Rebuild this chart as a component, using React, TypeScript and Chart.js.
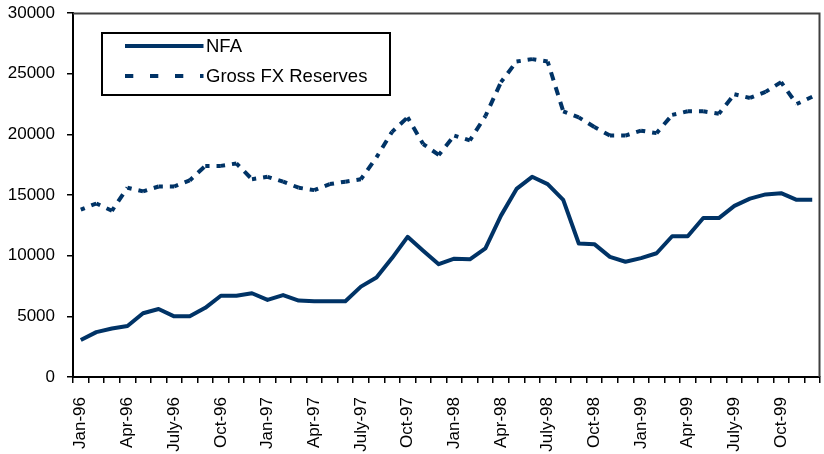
import React, { useEffect, useRef } from "react";
import { Chart, registerables } from "chart.js";

Chart.register(...registerables);

const categories = [
  "Jan-96", "Feb-96", "Mar-96", "Apr-96", "May-96", "June-96", "July-96", "Aug-96", "Sep-96", "Oct-96", "Nov-96", "Dec-96",
  "Jan-97", "Feb-97", "Mar-97", "Apr-97", "May-97", "June-97", "July-97", "Aug-97", "Sep-97", "Oct-97", "Nov-97", "Dec-97",
  "Jan-98", "Feb-98", "Mar-98", "Apr-98", "May-98", "June-98", "July-98", "Aug-98", "Sep-98", "Oct-98", "Nov-98", "Dec-98",
  "Jan-99", "Feb-99", "Mar-99", "Apr-99", "May-99", "June-99", "July-99", "Aug-99", "Sep-99", "Oct-99", "Nov-99", "Dec-99",
];

const nfa = [
  3050, 3700, 4000, 4200, 5250, 5600, 5000, 5000, 5700, 6700, 6700, 6900,
  6350, 6750, 6300, 6250, 6250, 6250, 7450, 8200, 9800, 11550, 10400, 9300,
  9750, 9700, 10600, 13300, 15500, 16500, 15900, 14600, 11000, 10950, 9900, 9500,
  9800, 10200, 11600, 11600, 13100, 13100, 14100, 14700, 15050, 15150, 14600, 14600,
];

const grossFx = [
  13800, 14300, 13700, 15600, 15300, 15700, 15700, 16200, 17400, 17400, 17600, 16300,
  16500, 16100, 15600, 15400, 15900, 16100, 16300, 18100, 20200, 21400, 19200, 18300,
  19900, 19500, 21500, 24300, 26000, 26200, 26000, 21900, 21400, 20600, 19900, 19900,
  20300, 20100, 21600, 21900, 21900, 21700, 23300, 23000, 23500, 24300, 22500, 23100,
];

const yTicks = [0, 5000, 10000, 15000, 20000, 25000, 30000];
const seriesNames = ["NFA", "Gross FX Reserves"];

const FONT = "'Liberation Sans', Arial, sans-serif";
const NAVY = "#003366";
const DASH = [8.5, 7];
const DASH_PERIOD = 15.5;

const legendPlugin = {
  id: "boxLegend",
  afterDraw(chart: any) {
    const ctx = chart.ctx;
    ctx.save();
    const ca = chart.chartArea;
    ctx.strokeStyle = "#404040";
    ctx.lineWidth = 2;
    ctx.beginPath();
    ctx.moveTo(ca.left, ca.top + 0.5);
    ctx.lineTo(ca.right - 0.5, ca.top + 0.5);
    ctx.lineTo(ca.right - 0.5, ca.bottom);
    ctx.stroke();

    const bx = 102, by = 33, bw = 288, bh = 62;
    ctx.fillStyle = "#ffffff";
    ctx.fillRect(bx, by, bw, bh);
    ctx.strokeStyle = "#000000";
    ctx.lineWidth = 2;
    ctx.strokeRect(bx, by, bw, bh);

    const ds = chart.data.datasets;
    ctx.font = `18.5px ${FONT}`;
    ctx.textBaseline = "middle";
    ctx.textAlign = "left";
    const rows = [46, 76];
    ds.forEach((d: any, i: number) => {
      const y = rows[i];
      ctx.strokeStyle = d.borderColor;
      ctx.lineWidth = 4;
      ctx.lineCap = "butt";
      ctx.setLineDash(i === 1 ? [8.3, 16.7] : []);
      ctx.beginPath();
      ctx.moveTo(125, y);
      ctx.lineTo(203.5, y);
      ctx.stroke();
      ctx.setLineDash([]);
      ctx.fillStyle = "#000000";
      ctx.fillText(d.label, 206, y + 1);
    });
    ctx.restore();
  },
};

export default function App() {
  const ref = useRef<HTMLCanvasElement | null>(null);

  useEffect(() => {
    document.body.style.margin = "0";
    const canvas = ref.current;
    if (!canvas) return;
    const chart = new Chart(canvas, {
      type: "line",
      data: {
        labels: categories,
        datasets: [
          {
            label: seriesNames[0],
            data: nfa,
            borderColor: NAVY,
            backgroundColor: NAVY,
            borderWidth: 4,
            pointRadius: 0,
            tension: 0,
            borderJoinStyle: "round",
            fill: false,
          },
          {
            label: seriesNames[1],
            data: grossFx,
            borderColor: NAVY,
            backgroundColor: NAVY,
            borderWidth: 4,
            pointRadius: 0,
            tension: 0,
            borderDash: DASH,
            fill: false,
            segment: {
              borderDashOffset: (c: any) => DASH[0] / 2 + c.p0DataIndex * DASH_PERIOD * 1000,
            },
          } as any,
        ],
      },
      options: {
        animation: false,
        responsive: false,
        maintainAspectRatio: false,
        layout: { padding: { top: 13, right: 4, left: 0, bottom: 0 } },
        plugins: {
          legend: { display: false },
          tooltip: { enabled: false },
        },
        scales: {
          x: {
            type: "category",
            offset: true,
            grid: {
              display: true,
              offset: true,
              drawOnChartArea: false,
              drawTicks: true,
              tickLength: 6,
              color: "#000000",
              lineWidth: 1.5,
            },
            border: { display: true, color: "#000000", width: 2 },
            ticks: {
              autoSkip: false,
              maxRotation: 90,
              minRotation: 90,
              padding: 14,
              color: "#000000",
              font: { family: FONT, size: 17 },
              callback: (_v: any, i: number) => (i % 3 === 0 ? categories[i] : ""),
            },
            afterFit: (s: any) => {
              s.height = 77;
              s.paddingLeft = 0;
              s.paddingRight = 0;
            },
          },
          y: {
            min: yTicks[0],
            max: yTicks[yTicks.length - 1],
            afterBuildTicks: (s: any) => {
              s.ticks = yTicks.map((v) => ({ value: v }));
            },
            grid: {
              display: true,
              drawOnChartArea: false,
              drawTicks: true,
              tickLength: 6,
              color: "#000000",
              lineWidth: 1.5,
            },
            border: { display: true, color: "#000000", width: 2 },
            ticks: {
              padding: 12,
              color: "#000000",
              font: { family: FONT, size: 17 },
              callback: (v: any) => String(v),
            },
            afterFit: (s: any) => {
              s.width = 73;
              s.paddingTop = 0;
              s.paddingBottom = 0;
            },
          },
        },
      },
      plugins: [legendPlugin],
    });
    return () => chart.destroy();
  }, []);

  return (
    <div style={{ width: 824, height: 454, position: "relative", background: "#fff" }}>
      <canvas ref={ref} width={824} height={454} style={{ display: "block" }} />
    </div>
  );
}
